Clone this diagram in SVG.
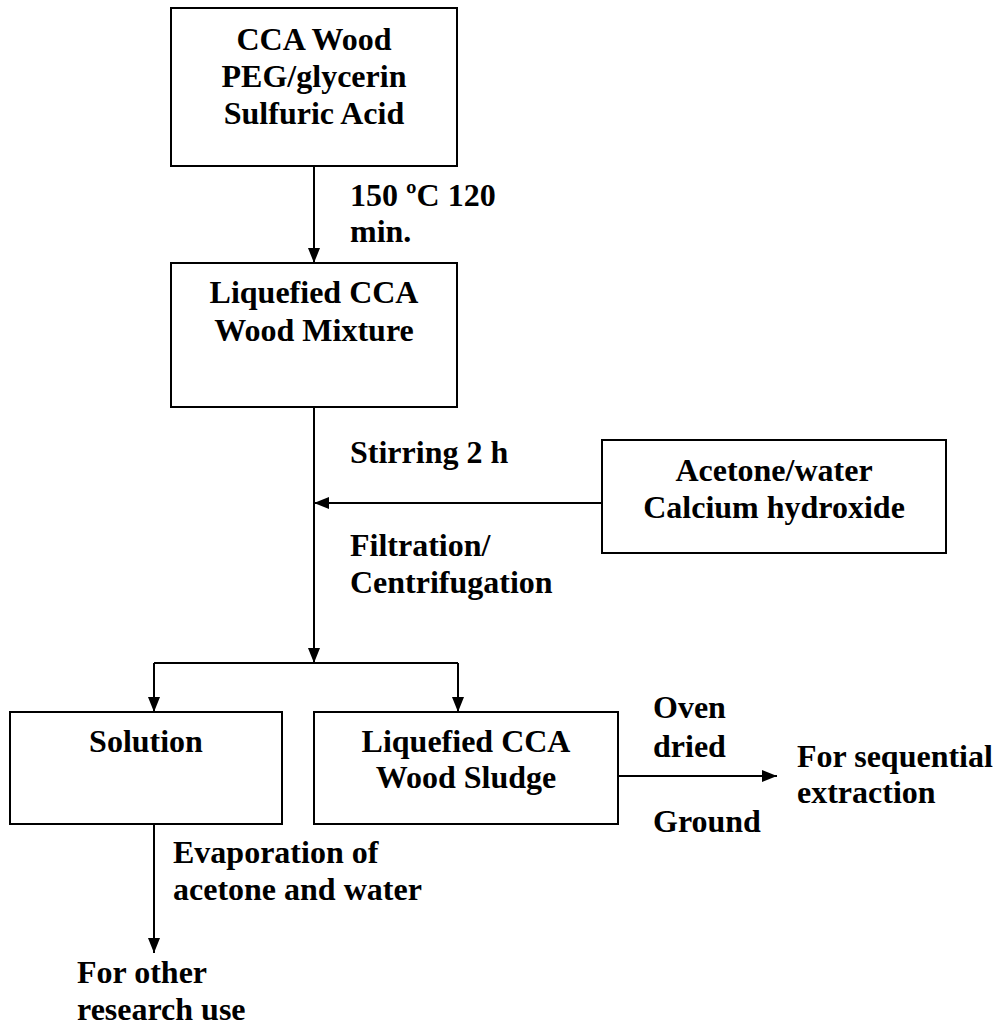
<svg xmlns="http://www.w3.org/2000/svg" width="1000" height="1027" viewBox="0 0 1000 1027" font-family="'Liberation Serif', 'Times New Roman', Times, serif">
<style>
.box{fill:#fff;stroke:#000;stroke-width:2}
text{font-family:'Liberation Serif','Times New Roman',Times,serif;font-weight:700;font-size:32px;fill:#000}
.c{text-anchor:middle}
.ln{fill:none;stroke:#000;stroke-width:2}
</style>
<defs>
<marker id="ah" markerWidth="15" markerHeight="12" refX="15" refY="6" orient="auto" markerUnits="userSpaceOnUse">
<path d="M0,0 L15,6 L0,12 Z" fill="#000"/>
</marker>
</defs>
<rect width="1000" height="1027" fill="#fff"/>
<g id="connectors">
<line class="ln" x1="314" y1="166" x2="314" y2="263" marker-end="url(#ah)"/>
<line class="ln" x1="314" y1="407" x2="314" y2="663" marker-end="url(#ah)"/>
<line class="ln" x1="602" y1="503" x2="314" y2="503" marker-end="url(#ah)"/>
<polyline class="ln" points="154,663 458,663"/>
<line class="ln" x1="154" y1="663" x2="154" y2="712" marker-end="url(#ah)"/>
<line class="ln" x1="458" y1="663" x2="458" y2="712" marker-end="url(#ah)"/>
<line class="ln" x1="618" y1="776" x2="777" y2="776" marker-end="url(#ah)"/>
<line class="ln" x1="154" y1="824" x2="154" y2="953" marker-end="url(#ah)"/>
</g>
<g id="labels">
<text x="350" y="206">150 ºC 120</text>
<text x="350" y="242">min.</text>
<text x="350" y="463">Stirring 2 h</text>
<text x="350" y="556">Filtration/</text>
<text x="350" y="593">Centrifugation</text>
<text x="653" y="718">Oven</text>
<text x="653" y="757">dried</text>
<text x="653" y="832">Ground</text>
<text x="173" y="863">Evaporation of</text>
<text x="173" y="900">acetone and water</text>
</g>
<g id="node-cca">
<rect class="box" x="171" y="8" width="286" height="158"/>
<text class="c" x="314" y="50">CCA Wood</text>
<text class="c" x="314" y="87">PEG/glycerin</text>
<text class="c" x="314" y="124">Sulfuric Acid</text>
</g>
<g id="node-mixture">
<rect class="box" x="171" y="263" width="286" height="144"/>
<text class="c" x="314" y="303">Liquefied CCA</text>
<text class="c" x="314" y="341">Wood Mixture</text>
</g>
<g id="node-acetone">
<rect class="box" x="602" y="440" width="344" height="113"/>
<text class="c" x="774" y="481">Acetone/water</text>
<text class="c" x="774" y="518">Calcium hydroxide</text>
</g>
<g id="node-solution">
<rect class="box" x="10" y="712" width="272" height="112"/>
<text class="c" x="146" y="752">Solution</text>
</g>
<g id="node-sludge">
<rect class="box" x="314" y="712" width="304" height="112"/>
<text class="c" x="466" y="752">Liquefied CCA</text>
<text class="c" x="466" y="788">Wood Sludge</text>
</g>
<g id="node-sequential">
<text x="797" y="767">For sequential</text>
<text x="797" y="803">extraction</text>
</g>
<g id="node-other">
<text x="77" y="983">For other</text>
<text x="77" y="1020">research use</text>
</g>
</svg>
